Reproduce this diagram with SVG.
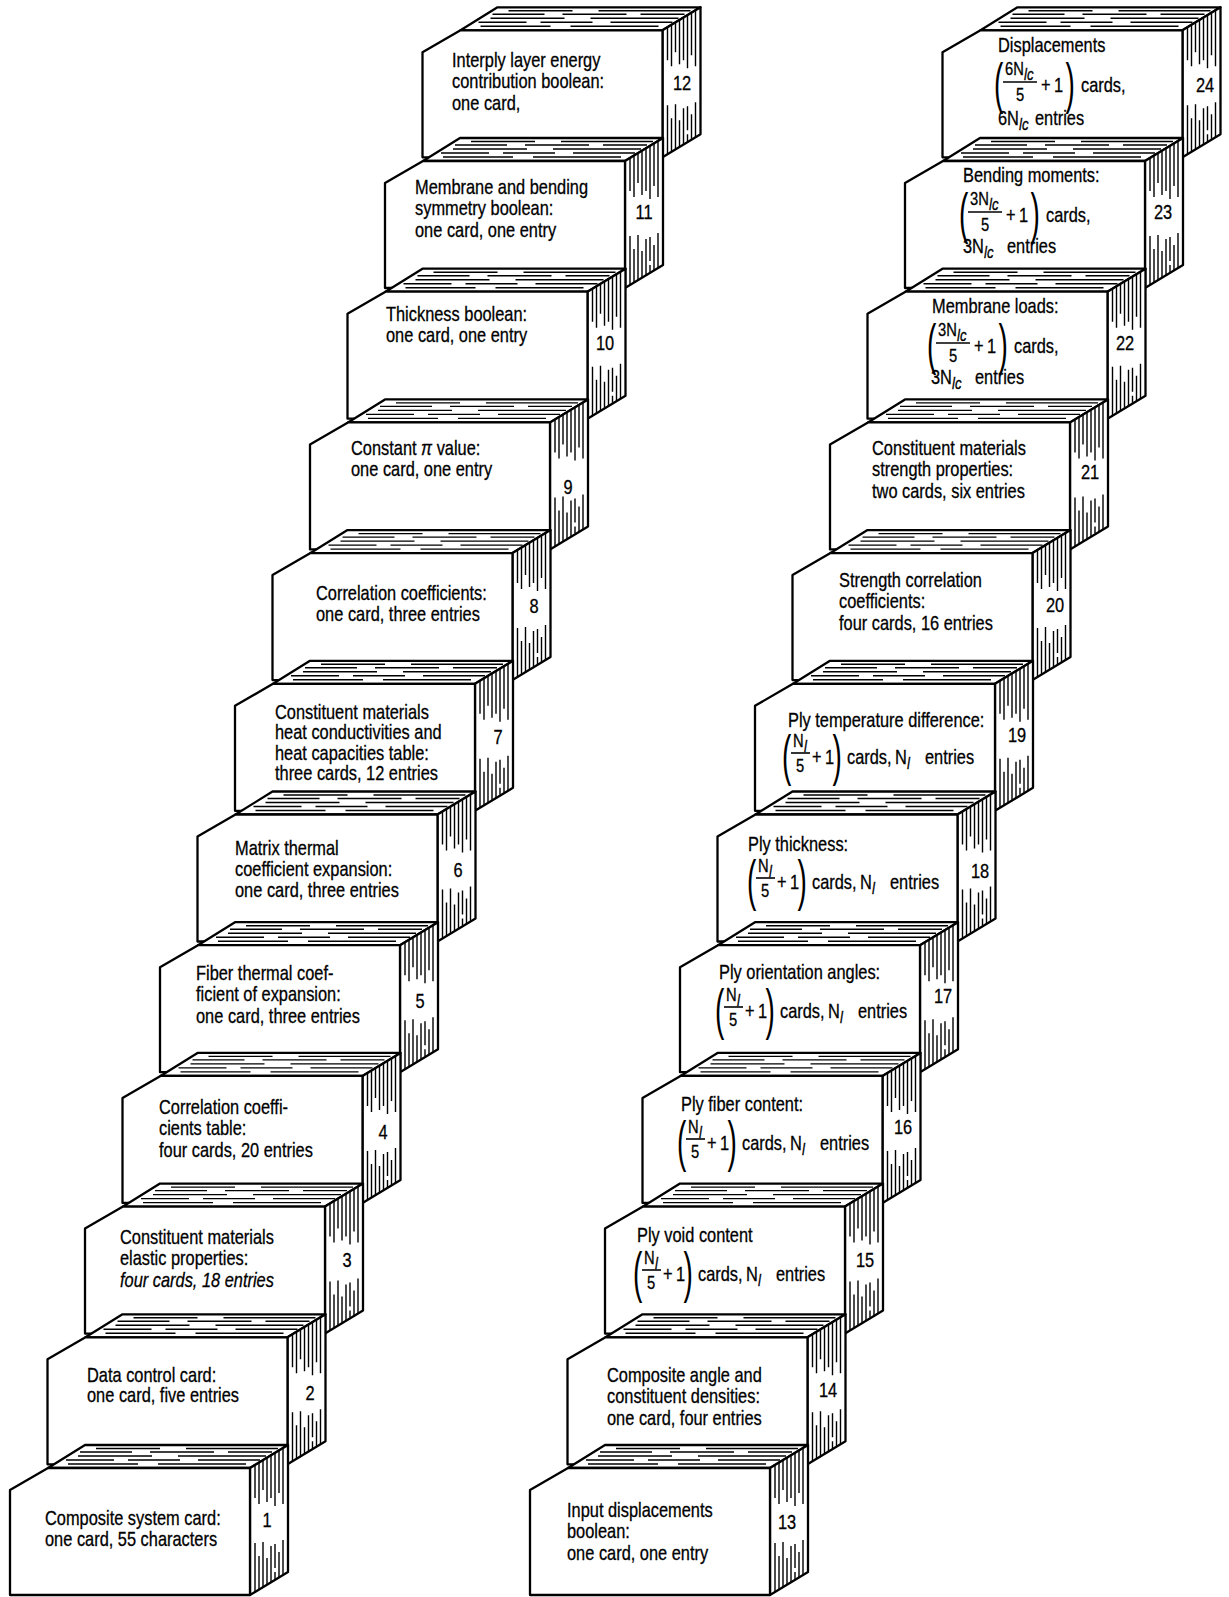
<svg xmlns="http://www.w3.org/2000/svg" xmlns:xlink="http://www.w3.org/1999/xlink" width="1229" height="1597" viewBox="0 0 1229 1597">
<style>
.f{fill:#fff;stroke:#000;stroke-width:2.3;stroke-linejoin:round}
.h{fill:none;stroke:#000;stroke-width:1.4}
.t{font-family:"Liberation Sans",Arial,sans-serif;font-size:20px;fill:#000;stroke:#000;stroke-width:0.3}
.m{font-size:18px}
.sb{font-size:16px;font-style:italic}
.it{font-style:italic}
.n{text-anchor:middle}
.p{font-family:"Liberation Sans",Arial,sans-serif;font-size:56px;fill:#000}
.b{stroke:#000;stroke-width:1.6}
</style>
<defs>
<g id="stk">
<polygon class="f" points="38,0 75,-23 278,-23 240,0"/>
<polygon class="f" points="240,0 278,-23 278,104 240,127"/>
<polygon class="f" points="0,22 38,0 240,0 240,127 0,127"/>
<path class="h" d="M58,-4H128M148,-4H236M56,-8H104M118,-8H170M188,-8H250M68,-12H142M168,-12H256M70,-16H122M140,-16H204M218,-16H262M86,-19.5H150M176,-19.5H268"/>
<path class="h" d="M245,-3V30M245,75V124M249,-5V36M249,88V121M253,-8V22M253,74V119M257,-10V34M257,90V116M261,-13V30M261,78V114M265,-15V38M265,76V100M265,104V111M269,-17V25M269,84V109M273,-20V36M273,72V107"/>
</g>
</defs>
<g id="connectors"/>

<g id="card12"><use xlink:href="#stk" transform="translate(422.5,30.3)"/>
<text class="t" transform="translate(452,66.7) scale(.82,1)"><tspan x="0" y="0">Interply layer energy</tspan><tspan x="0" y="21.5">contribution boolean:</tspan><tspan x="0" y="43">one card,</tspan></text>
<text class="t n" transform="translate(682,90) scale(.82,1)">12</text></g>

<g id="card11"><use xlink:href="#stk" transform="translate(385,161)"/>
<text class="t" transform="translate(415,194) scale(.82,1)"><tspan x="0" y="0">Membrane and bending</tspan><tspan x="0" y="21.5">symmetry boolean:</tspan><tspan x="0" y="43">one card, one entry</tspan></text>
<text class="t n" transform="translate(644,219) scale(.82,1)">11</text></g>

<g id="card10"><use xlink:href="#stk" transform="translate(347.5,291.7)"/>
<text class="t" transform="translate(386,321) scale(.82,1)"><tspan x="0" y="0">Thickness boolean:</tspan><tspan x="0" y="21.5">one card, one entry</tspan></text>
<text class="t n" transform="translate(605,350) scale(.82,1)">10</text></g>

<g id="card9"><use xlink:href="#stk" transform="translate(310,422.4)"/>
<text class="t" transform="translate(351,455) scale(.82,1)"><tspan x="0" y="0">Constant <tspan class="it">π</tspan> value:</tspan><tspan x="0" y="21.5">one card, one entry</tspan></text>
<text class="t n" transform="translate(568,494) scale(.82,1)">9</text></g>

<g id="card8"><use xlink:href="#stk" transform="translate(272.5,553.1)"/>
<text class="t" transform="translate(316,600) scale(.82,1)"><tspan x="0" y="0">Correlation coefficients:</tspan><tspan x="0" y="21.5">one card, three entries</tspan></text>
<text class="t n" transform="translate(534,613) scale(.82,1)">8</text></g>

<g id="card7"><use xlink:href="#stk" transform="translate(235,683.8)"/>
<text class="t" transform="translate(275,719) scale(.82,1)"><tspan x="0" y="0">Constituent materials</tspan><tspan x="0" y="20.5">heat conductivities and</tspan><tspan x="0" y="41">heat capacities table:</tspan><tspan x="0" y="61.5">three cards, 12 entries</tspan></text>
<text class="t n" transform="translate(498,744) scale(.82,1)">7</text></g>

<g id="card6"><use xlink:href="#stk" transform="translate(197.5,814.5)"/>
<text class="t" transform="translate(235,855) scale(.82,1)"><tspan x="0" y="0">Matrix thermal</tspan><tspan x="0" y="21">coefficient expansion:</tspan><tspan x="0" y="42">one card, three entries</tspan></text>
<text class="t n" transform="translate(458,877) scale(.82,1)">6</text></g>

<g id="card5"><use xlink:href="#stk" transform="translate(160,945.2)"/>
<text class="t" transform="translate(196,980) scale(.82,1)"><tspan x="0" y="0">Fiber thermal coef-</tspan><tspan x="0" y="21.5">ficient of expansion:</tspan><tspan x="0" y="43">one card, three entries</tspan></text>
<text class="t n" transform="translate(420,1008) scale(.82,1)">5</text></g>

<g id="card4"><use xlink:href="#stk" transform="translate(122.5,1075.9)"/>
<text class="t" transform="translate(159,1114) scale(.82,1)"><tspan x="0" y="0">Correlation coeffi-</tspan><tspan x="0" y="21.5">cients table:</tspan><tspan x="0" y="43">four cards, 20 entries</tspan></text>
<text class="t n" transform="translate(383,1139) scale(.82,1)">4</text></g>

<g id="card3"><use xlink:href="#stk" transform="translate(85,1206.6)"/>
<text class="t" transform="translate(120,1244) scale(.82,1)"><tspan x="0" y="0">Constituent materials</tspan><tspan x="0" y="21.5">elastic properties:</tspan><tspan class="it" x="0" y="43">four cards, 18 entries</tspan></text>
<text class="t n" transform="translate(347,1267) scale(.82,1)">3</text></g>

<g id="card2"><use xlink:href="#stk" transform="translate(47.5,1337.3)"/>
<text class="t" transform="translate(87,1382) scale(.82,1)"><tspan x="0" y="0">Data control card:</tspan><tspan x="0" y="20">one card, five entries</tspan></text>
<text class="t n" transform="translate(310,1400) scale(.82,1)">2</text></g>

<g id="card1"><use xlink:href="#stk" transform="translate(10,1468)"/>
<text class="t" transform="translate(45,1525) scale(.82,1)"><tspan x="0" y="0">Composite system card:</tspan><tspan x="0" y="21.5">one card, 55 characters</tspan></text>
<text class="t n" transform="translate(267,1527) scale(.82,1)">1</text></g>

<g id="card24"><use xlink:href="#stk" transform="translate(942.5,30.3)"/>
<text class="t" transform="translate(998,52) scale(.82,1)">Displacements</text>
<text class="p" transform="translate(994,102) scale(.5,1)">(</text>
<text class="t m" transform="translate(1005,75) scale(.82,1)">6N</text>
<text class="t sb" transform="translate(1024,80) scale(.82,1)">lc</text>
<line class="b" x1="1003" y1="82" x2="1037" y2="82"/>
<text class="t m" transform="translate(1016,101) scale(.82,1)">5</text>
<text class="t" transform="translate(1041,92) scale(.82,1)">+</text>
<text class="t" transform="translate(1054,92) scale(.82,1)">1</text>
<text class="p" transform="translate(1065.5,102) scale(.5,1)">)</text>
<text class="t" transform="translate(1081,92) scale(.82,1)">cards,</text>
<text class="t" transform="translate(998,125) scale(.82,1)">6N</text>
<text class="t sb" transform="translate(1019,130) scale(.82,1)">lc</text>
<text class="t" transform="translate(1035,125) scale(.82,1)">entries</text>
<text class="t n" transform="translate(1205,92) scale(.82,1)">24</text></g>

<g id="card23"><use xlink:href="#stk" transform="translate(905,161)"/>
<text class="t" transform="translate(963,182) scale(.82,1)">Bending moments:</text>
<text class="p" transform="translate(959,232) scale(.5,1)">(</text>
<text class="t m" transform="translate(970,205) scale(.82,1)">3N</text>
<text class="t sb" transform="translate(989,210) scale(.82,1)">lc</text>
<line class="b" x1="968" y1="212" x2="1002" y2="212"/>
<text class="t m" transform="translate(981,231) scale(.82,1)">5</text>
<text class="t" transform="translate(1006,222) scale(.82,1)">+</text>
<text class="t" transform="translate(1019,222) scale(.82,1)">1</text>
<text class="p" transform="translate(1030.5,232) scale(.5,1)">)</text>
<text class="t" transform="translate(1046,222) scale(.82,1)">cards,</text>
<text class="t" transform="translate(963,253) scale(.82,1)">3N</text>
<text class="t sb" transform="translate(984,258) scale(.82,1)">lc</text>
<text class="t" transform="translate(1007,253) scale(.82,1)">entries</text>
<text class="t n" transform="translate(1163,219) scale(.82,1)">23</text></g>

<g id="card22"><use xlink:href="#stk" transform="translate(867.5,291.7)"/>
<text class="t" transform="translate(932,313) scale(.82,1)">Membrane loads:</text>
<text class="p" transform="translate(927,363) scale(.5,1)">(</text>
<text class="t m" transform="translate(938,336) scale(.82,1)">3N</text>
<text class="t sb" transform="translate(957,341) scale(.82,1)">lc</text>
<line class="b" x1="936" y1="343" x2="970" y2="343"/>
<text class="t m" transform="translate(949,362) scale(.82,1)">5</text>
<text class="t" transform="translate(974,353) scale(.82,1)">+</text>
<text class="t" transform="translate(987,353) scale(.82,1)">1</text>
<text class="p" transform="translate(998.5,363) scale(.5,1)">)</text>
<text class="t" transform="translate(1014,353) scale(.82,1)">cards,</text>
<text class="t" transform="translate(931,384) scale(.82,1)">3N</text>
<text class="t sb" transform="translate(952,389) scale(.82,1)">lc</text>
<text class="t" transform="translate(975,384) scale(.82,1)">entries</text>
<text class="t n" transform="translate(1125,350) scale(.82,1)">22</text></g>

<g id="card21"><use xlink:href="#stk" transform="translate(830,422.4)"/>
<text class="t" transform="translate(872,455) scale(.82,1)"><tspan x="0" y="0">Constituent materials</tspan><tspan x="0" y="21.5">strength properties:</tspan><tspan x="0" y="43">two cards, six entries</tspan></text>
<text class="t n" transform="translate(1090,479) scale(.82,1)">21</text></g>

<g id="card20"><use xlink:href="#stk" transform="translate(792.5,553.1)"/>
<text class="t" transform="translate(839,587) scale(.82,1)"><tspan x="0" y="0">Strength correlation</tspan><tspan x="0" y="21.5">coefficients:</tspan><tspan x="0" y="43">four cards, 16 entries</tspan></text>
<text class="t n" transform="translate(1055,612) scale(.82,1)">20</text></g>

<g id="card19"><use xlink:href="#stk" transform="translate(755,683.8)"/>
<text class="t" transform="translate(788,727) scale(.82,1)">Ply temperature difference:</text>
<text class="p" transform="translate(782,774) scale(.5,1)">(</text>
<text class="t m" transform="translate(793,747) scale(.82,1)">N</text>
<text class="t sb" transform="translate(804,752) scale(.82,1)">l</text>
<line class="b" x1="791" y1="753" x2="810" y2="753"/>
<text class="t m" transform="translate(796,772) scale(.82,1)">5</text>
<text class="t" transform="translate(812,764) scale(.82,1)">+</text>
<text class="t" transform="translate(825,764) scale(.82,1)">1</text>
<text class="p" transform="translate(832.5,774) scale(.5,1)">)</text>
<text class="t" transform="translate(847,764) scale(.82,1)">cards,</text>
<text class="t" transform="translate(895,764) scale(.82,1)">N</text>
<text class="t sb" transform="translate(907,769) scale(.82,1)">l</text>
<text class="t" transform="translate(925,764) scale(.82,1)">entries</text>
<text class="t n" transform="translate(1017,742) scale(.82,1)">19</text></g>

<g id="card18"><use xlink:href="#stk" transform="translate(717.5,814.5)"/>
<text class="t" transform="translate(748,851) scale(.82,1)">Ply thickness:</text>
<text class="p" transform="translate(747,899) scale(.5,1)">(</text>
<text class="t m" transform="translate(758,872) scale(.82,1)">N</text>
<text class="t sb" transform="translate(769,877) scale(.82,1)">l</text>
<line class="b" x1="756" y1="878" x2="775" y2="878"/>
<text class="t m" transform="translate(761,897) scale(.82,1)">5</text>
<text class="t" transform="translate(777,889) scale(.82,1)">+</text>
<text class="t" transform="translate(790,889) scale(.82,1)">1</text>
<text class="p" transform="translate(797.5,899) scale(.5,1)">)</text>
<text class="t" transform="translate(812,889) scale(.82,1)">cards,</text>
<text class="t" transform="translate(860,889) scale(.82,1)">N</text>
<text class="t sb" transform="translate(872,894) scale(.82,1)">l</text>
<text class="t" transform="translate(890,889) scale(.82,1)">entries</text>
<text class="t n" transform="translate(980,878) scale(.82,1)">18</text></g>

<g id="card17"><use xlink:href="#stk" transform="translate(680,945.2)"/>
<text class="t" transform="translate(719,979) scale(.82,1)">Ply orientation angles:</text>
<text class="p" transform="translate(715,1028) scale(.5,1)">(</text>
<text class="t m" transform="translate(726,1001) scale(.82,1)">N</text>
<text class="t sb" transform="translate(737,1006) scale(.82,1)">l</text>
<line class="b" x1="724" y1="1007" x2="743" y2="1007"/>
<text class="t m" transform="translate(729,1026) scale(.82,1)">5</text>
<text class="t" transform="translate(745,1018) scale(.82,1)">+</text>
<text class="t" transform="translate(758,1018) scale(.82,1)">1</text>
<text class="p" transform="translate(765.5,1028) scale(.5,1)">)</text>
<text class="t" transform="translate(780,1018) scale(.82,1)">cards,</text>
<text class="t" transform="translate(828,1018) scale(.82,1)">N</text>
<text class="t sb" transform="translate(840,1023) scale(.82,1)">l</text>
<text class="t" transform="translate(858,1018) scale(.82,1)">entries</text>
<text class="t n" transform="translate(943,1003) scale(.82,1)">17</text></g>

<g id="card16"><use xlink:href="#stk" transform="translate(642.5,1075.9)"/>
<text class="t" transform="translate(681,1111) scale(.82,1)">Ply fiber content:</text>
<text class="p" transform="translate(677,1160) scale(.5,1)">(</text>
<text class="t m" transform="translate(688,1133) scale(.82,1)">N</text>
<text class="t sb" transform="translate(699,1138) scale(.82,1)">l</text>
<line class="b" x1="686" y1="1139" x2="705" y2="1139"/>
<text class="t m" transform="translate(691,1158) scale(.82,1)">5</text>
<text class="t" transform="translate(707,1150) scale(.82,1)">+</text>
<text class="t" transform="translate(720,1150) scale(.82,1)">1</text>
<text class="p" transform="translate(727.5,1160) scale(.5,1)">)</text>
<text class="t" transform="translate(742,1150) scale(.82,1)">cards,</text>
<text class="t" transform="translate(790,1150) scale(.82,1)">N</text>
<text class="t sb" transform="translate(802,1155) scale(.82,1)">l</text>
<text class="t" transform="translate(820,1150) scale(.82,1)">entries</text>
<text class="t n" transform="translate(903,1134) scale(.82,1)">16</text></g>

<g id="card15"><use xlink:href="#stk" transform="translate(605,1206.6)"/>
<text class="t" transform="translate(637,1242) scale(.82,1)">Ply void content</text>
<text class="p" transform="translate(633,1291) scale(.5,1)">(</text>
<text class="t m" transform="translate(644,1264) scale(.82,1)">N</text>
<text class="t sb" transform="translate(655,1269) scale(.82,1)">l</text>
<line class="b" x1="642" y1="1270" x2="661" y2="1270"/>
<text class="t m" transform="translate(647,1289) scale(.82,1)">5</text>
<text class="t" transform="translate(663,1281) scale(.82,1)">+</text>
<text class="t" transform="translate(676,1281) scale(.82,1)">1</text>
<text class="p" transform="translate(683.5,1291) scale(.5,1)">)</text>
<text class="t" transform="translate(698,1281) scale(.82,1)">cards,</text>
<text class="t" transform="translate(746,1281) scale(.82,1)">N</text>
<text class="t sb" transform="translate(758,1286) scale(.82,1)">l</text>
<text class="t" transform="translate(776,1281) scale(.82,1)">entries</text>
<text class="t n" transform="translate(865,1267) scale(.82,1)">15</text></g>

<g id="card14"><use xlink:href="#stk" transform="translate(567.5,1337.3)"/>
<text class="t" transform="translate(607,1382) scale(.82,1)"><tspan x="0" y="0">Composite angle and</tspan><tspan x="0" y="21.5">constituent densities:</tspan><tspan x="0" y="43">one card, four entries</tspan></text>
<text class="t n" transform="translate(828,1397) scale(.82,1)">14</text></g>

<g id="card13"><use xlink:href="#stk" transform="translate(530,1468)"/>
<text class="t" transform="translate(567,1517) scale(.82,1)"><tspan x="0" y="0">Input displacements</tspan><tspan x="0" y="21.5">boolean:</tspan><tspan x="0" y="43">one card, one entry</tspan></text>
<text class="t n" transform="translate(787,1529) scale(.82,1)">13</text></g>
</svg>
